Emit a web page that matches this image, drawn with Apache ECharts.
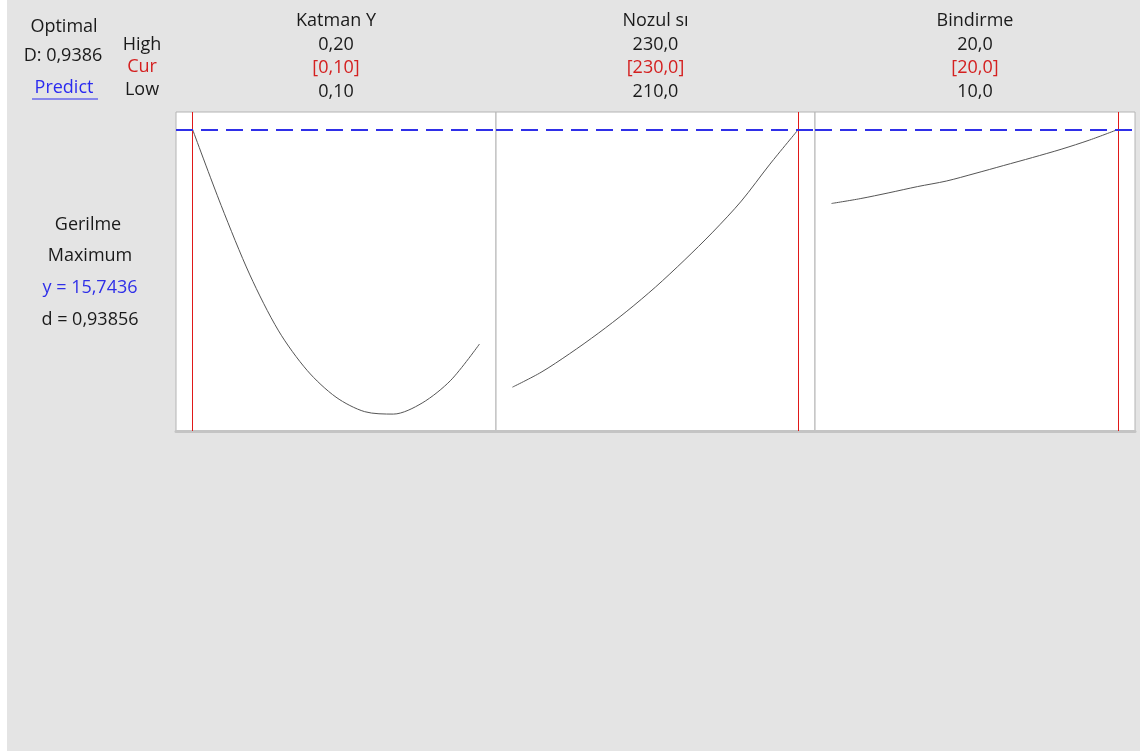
<!DOCTYPE html>
<html>
<head>
<meta charset="utf-8">
<script src="https://cdn.jsdelivr.net/npm/echarts@6/dist/echarts.min.js"></script>
<style>
  html, body { margin: 0; padding: 0; background: #fff; }
  #main { position: absolute; left: 7px; top: 0; width: 1133px; height: 751px; }
</style>
</head>
<body>
<div id="main"></div>
<script>
// factor settings (header rows)
const factorNames = ['Katman Y', 'Nozul sı', 'Bindirme'];
const highLabels = ['0,20', '230,0', '20,0'];
const curLabels = ['[0,10]', '[230,0]', '[20,0]'];
const lowLabels = ['0,10', '210,0', '10,0'];
const lowValues = [0.10, 210, 10];
const highValues = [0.20, 230, 20];
const curValues = [0.10, 230, 20];

// response curves
const katmanX = [0.10, 0.11, 0.12, 0.13, 0.14, 0.15, 0.16, 0.17, 0.18, 0.19, 0.20];
const katmanY = [15.74, 13.53, 11.52, 9.90, 8.75, 7.98, 7.56, 7.49, 7.81, 8.47, 9.52];
const nozulX = [210, 212, 214, 216, 218, 220, 222, 224, 226, 228, 230];
const nozulY = [8.27, 8.70, 9.24, 9.83, 10.47, 11.17, 11.94, 12.76, 13.66, 14.73, 15.74];
const bindirmeX = [10, 11, 12, 13, 14, 15, 16, 17, 18, 19, 20];
const bindirmeY = [13.59, 13.73, 13.90, 14.08, 14.24, 14.46, 14.69, 14.92, 15.16, 15.43, 15.74];

const yOptimal = 15.7436;
const yMin = 7;
const yMax = 16.24;

const curvesX = [katmanX, nozulX, bindirmeX];
const curvesY = [katmanY, nozulY, bindirmeY];

// panel layout (chart coords)
const panelLeft = [169, 489, 808];
const panelWidth = [320, 319, 320];
const panelTop = 112;
const panelHeight = 319;
const pad = 0.0575;

const FONT = '"Open Sans", "Noto Sans", sans-serif';
const black = '#1a1a1a';
const red = '#d42020';
const blue = '#2f2fe8';

const myChart = echarts.init(document.getElementById('main'));

const grids = [], xAxes = [], yAxes = [], series = [];
factorNames.forEach((name, i) => {
  grids.push({
    left: panelLeft[i], top: panelTop, width: panelWidth[i], height: panelHeight,
    show: true, backgroundColor: '#fff', borderColor: '#b4b4b4', borderWidth: 1
  });
  const span = highValues[i] - lowValues[i];
  xAxes.push({
    type: 'value', gridIndex: i,
    min: lowValues[i] - span * pad, max: highValues[i] + span * pad,
    axisLine: { show: true, onZero: false, lineStyle: { color: '#c4c4c4', width: 3 } },
    axisTick: { show: false }, axisLabel: { show: false }, splitLine: { show: false }
  });
  yAxes.push({
    type: 'value', gridIndex: i, min: yMin, max: yMax,
    axisLine: { show: false }, axisTick: { show: false },
    axisLabel: { show: false }, splitLine: { show: false }
  });
  series.push({
    type: 'line', xAxisIndex: i, yAxisIndex: i,
    data: curvesX[i].map((x, k) => [x, curvesY[i][k]]),
    showSymbol: false, smooth: 0.3,
    lineStyle: { color: '#555', width: 1 },
    silent: true,
    markLine: {
      silent: true, symbol: 'none', label: { show: false },
      data: [
        { xAxis: curValues[i], lineStyle: { color: '#e01818', width: 1, type: 'solid' } },
        { yAxis: yOptimal, lineStyle: { color: blue, width: 2, type: [17, 8] } }
      ]
    }
  });
});

function txt(text, x, y, color) {
  return {
    type: 'text', x: x, y: y, silent: true,
    style: { text: text, align: 'center', verticalAlign: 'middle', fill: color || black, fontSize: 18, fontFamily: FONT }
  };
}

const graphics = [
  txt('Optimal', 57, 27),
  txt('D: 0,9386', 56, 56),
  txt('Predict', 57, 88, '#2a2af0'),
  { type: 'line', silent: true, shape: { x1: 25, y1: 99, x2: 91, y2: 99 }, style: { stroke: '#2a2af0', lineWidth: 1 } },
  txt('High', 135, 45),
  txt('Cur', 135, 67, red),
  txt('Low', 135, 90),
  txt('Gerilme', 81, 225),
  txt('Maximum', 83, 256),
  txt('y = 15,7436', 83, 288, blue),
  txt('d = 0,93856', 83, 320)
];
factorNames.forEach((name, i) => {
  const cx = panelLeft[i] + panelWidth[i] / 2;
  graphics.push(txt(name, cx, 21));
  graphics.push(txt(highLabels[i], cx, 45));
  graphics.push(txt(curLabels[i], cx, 68, red));
  graphics.push(txt(lowLabels[i], cx, 92));
});

myChart.setOption({
  backgroundColor: '#e4e4e4',
  animation: false,
  grid: grids,
  xAxis: xAxes,
  yAxis: yAxes,
  series: series,
  graphic: graphics
});
</script>
</body>
</html>
